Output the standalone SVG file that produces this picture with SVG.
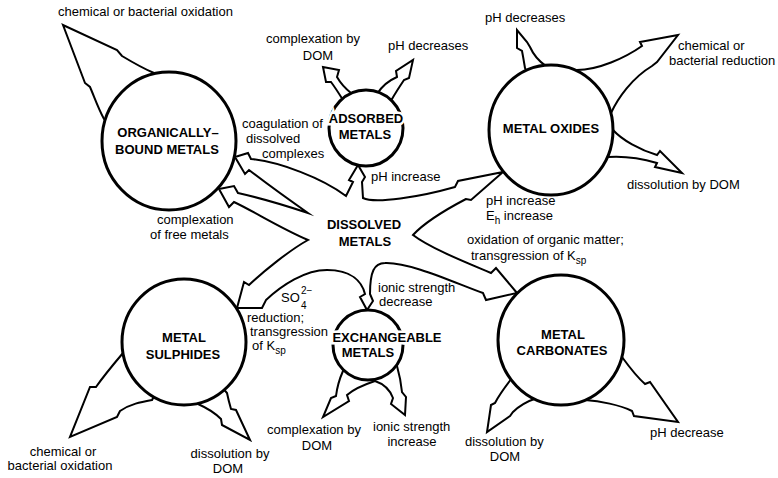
<svg xmlns="http://www.w3.org/2000/svg" width="778" height="478" viewBox="0 0 778 478">
  <style>
    .arrow { fill: #fff; stroke: #000; stroke-width: 2; stroke-linejoin: miter; stroke-miterlimit: 8; }
    .pool { fill: #fff; stroke: #000; stroke-width: 3; }
    .lbl { font-family: "Liberation Sans", Arial, sans-serif; font-size: 13px; fill: #000; }
    .node { font-family: "Liberation Sans", Arial, sans-serif; font-size: 13px; font-weight: bold; fill: #000; text-anchor: middle; }
    .halo { stroke: #fff; stroke-width: 5; paint-order: stroke; }
    .mid { text-anchor: middle; }
    .sub { font-size: 10px; }
  </style>

  <!-- broad arrows: dissolved pool outline and transformation pathways -->
  <g id="connectors">
    <!-- dissolved metals: star-shaped outline of arrows to each solid phase -->
    <path class="arrow" d="M235,157 L248,153 L251,159 C280,162 322,178 346,196 L353,182 L349,180 L358,165 L365,177 L362,182 L363,198 C375,204 420,197 455,187 L458,181 L503,172 L471,200 L466,199 C445,210 425,222 413,235 C430,248 465,262 491,273 L496,268 L517,293 L486,300 L483,293 C455,283 410,262 385,263 C374,263 370,272 370,294 L373,301 L367,310 L360,297 L365,294 C362,282 352,270 327,270 C305,270 282,285 266,300 L262,308 L237,308 L244,282 L249,285 C265,270 290,250 308,240 C280,228 255,212 234,202 L229,207 L219,189 L234,186 L238,193 C260,198 290,207 308,213 C285,197 262,180 249,170 L245,174 Z"/>
    <!-- organically-bound -> oxidation -->
    <path class="arrow" d="M169,141 L104,119 C98,108 94,96 90,87 L85,83 L63,25 L117,50 L122,56 C132,62 142,68 154,73 Z"/>
    <!-- adsorbed -> complexation by DOM -->
    <path class="arrow" d="M366,128 L343,100 C338,92 334,86 331,82 L326,82 L323,67 L339,70 L337,77 C341,84 346,89 351,93 Z"/>
    <!-- adsorbed -> pH decreases -->
    <path class="arrow" d="M366,128 L377,94 C382,86 390,80 397,77 L396,71 L413,60 L409,78 L404,80 C400,86 396,92 392,99 Z"/>
    <!-- oxides -> pH decreases -->
    <path class="arrow" d="M551,130 L525,68 C524,62 523,56 522,51 L517,48 L517,30 L527,42 L530,47 C534,56 540,62 546,66 Z"/>
    <!-- oxides -> reduction -->
    <path class="arrow" d="M551,130 L577,70 C598,70 625,58 642,46 L640,42 L678,35 L657,62 L652,66 C632,78 618,98 611,113 Z"/>
    <!-- oxides -> dissolution by DOM -->
    <path class="arrow" d="M551,130 L613,130 C622,140 640,150 657,155 L660,151 L682,173 L655,167 L657,163 C640,158 622,156 608,157 Z"/>
    <!-- sulphides -> oxidation -->
    <path class="arrow" d="M184,342 L123,353 C112,366 103,377 96,387 L90,387 L70,437 L117,417 L120,411 C130,404 141,402 152,400 Z"/>
    <!-- sulphides -> dissolution by DOM -->
    <path class="arrow" d="M184,342 L198,404 C207,408 215,413 221,419 L222,425 L250,440 L236,410 L231,409 C229,402 228,398 227,393 Z"/>
    <!-- exchangeable -> complexation by DOM -->
    <path class="arrow" d="M368,345 L343,371 C339,380 337,388 336,396 L331,398 L323,417 L349,401 L347,395 C355,388 366,384 375,381 Z"/>
    <!-- exchangeable -> ionic strength increase -->
    <path class="arrow" d="M368,345 L375,381 C384,384 390,390 393,398 L391,404 L405,415 L406,397 L402,392 C401,382 399,373 397,366 Z"/>
    <!-- carbonates -> dissolution by DOM -->
    <path class="arrow" d="M561,340 L512,378 C505,387 499,395 495,403 L491,405 L487,432 L510,416 L513,412 C520,405 528,401 537,398 Z"/>
    <!-- carbonates -> pH decrease -->
    <path class="arrow" d="M561,340 L622,357 C630,368 637,377 645,384 L650,382 L678,422 L634,416 L632,411 C620,405 600,401 585,400 Z"/>
  </g>

  <g id="organically-bound">
    <ellipse class="pool" cx="169" cy="141" rx="67" ry="69"/>
    <text class="node" x="168" y="137">ORGANICALLY–</text>
    <text class="node" x="167" y="154">BOUND METALS</text>
  </g>

  <g id="adsorbed">
    <ellipse class="pool" cx="366" cy="128" rx="37" ry="38"/>
    <text class="node halo" x="366" y="123">ADSORBED</text>
    <text class="node" x="365" y="139">METALS</text>
  </g>

  <g id="oxides">
    <ellipse class="pool" cx="551" cy="130" rx="62" ry="65"/>
    <text class="node" x="551" y="133">METAL OXIDES</text>
  </g>

  <g id="dissolved">
    <text class="node" x="364" y="229">DISSOLVED</text>
    <text class="node" x="365" y="246">METALS</text>
  </g>

  <g id="sulphides">
    <ellipse class="pool" cx="184" cy="342" rx="62" ry="63"/>
    <text class="node" x="184" y="342">METAL</text>
    <text class="node" x="183" y="359">SULPHIDES</text>
  </g>

  <g id="exchangeable">
    <ellipse class="pool" cx="368" cy="345" rx="35" ry="35"/>
    <text class="node halo" x="387" y="342">EXCHANGEABLE</text>
    <text class="node" x="368" y="357">METALS</text>
  </g>

  <g id="carbonates">
    <ellipse class="pool" cx="561" cy="340" rx="63" ry="65"/>
    <text class="node" x="563" y="339">METAL</text>
    <text class="node" x="562" y="355">CARBONATES</text>
  </g>

  <!-- process labels -->
  <g id="labels" class="lbl">
    <text x="58" y="16">chemical or bacterial oxidation</text>
    <text x="266" y="43">complexation by</text>
    <text class="mid" x="318" y="60">DOM</text>
    <text x="388" y="50">pH decreases</text>
    <text x="242" y="128">coagulation of</text>
    <text x="246" y="143">dissolved</text>
    <text x="262" y="158">complexes</text>
    <text x="371" y="181">pH increase</text>
    <text x="485" y="22">pH decreases</text>
    <text x="678" y="50">chemical or</text>
    <text x="669" y="65">bacterial reduction</text>
    <text x="627" y="189">dissolution by DOM</text>
    <text x="486" y="205">pH increase</text>
    <text x="486" y="220">E<tspan class="sub" dy="4">h</tspan><tspan dy="-4"> increase</tspan></text>
    <text x="467" y="244">oxidation of organic matter;</text>
    <text x="471" y="260">transgression of K<tspan class="sub" dy="4">sp</tspan></text>
    <text x="157" y="224">complexation</text>
    <text x="150" y="239">of free metals</text>
    <text x="281" y="302">SO</text>
    <text class="sub" x="301" y="294">2−</text>
    <text class="sub" x="301" y="309">4</text>
    <text x="247" y="322">reduction;</text>
    <text x="250" y="336">transgression</text>
    <text x="252" y="350">of K<tspan class="sub" dy="4">sp</tspan></text>
    <text x="378" y="292">ionic strength</text>
    <text x="379" y="306">decrease</text>
    <text x="267" y="434">complexation by</text>
    <text class="mid" x="317" y="450">DOM</text>
    <text x="373" y="431">ionic strength</text>
    <text class="mid" x="412" y="446">increase</text>
    <text class="mid" x="63" y="456">chemical or</text>
    <text class="mid" x="60" y="470">bacterial oxidation</text>
    <text class="mid" x="230" y="458">dissolution by</text>
    <text class="mid" x="228" y="473">DOM</text>
    <text x="465" y="446">dissolution by</text>
    <text class="mid" x="505" y="461">DOM</text>
    <text x="650" y="437">pH decrease</text>
  </g>
</svg>
